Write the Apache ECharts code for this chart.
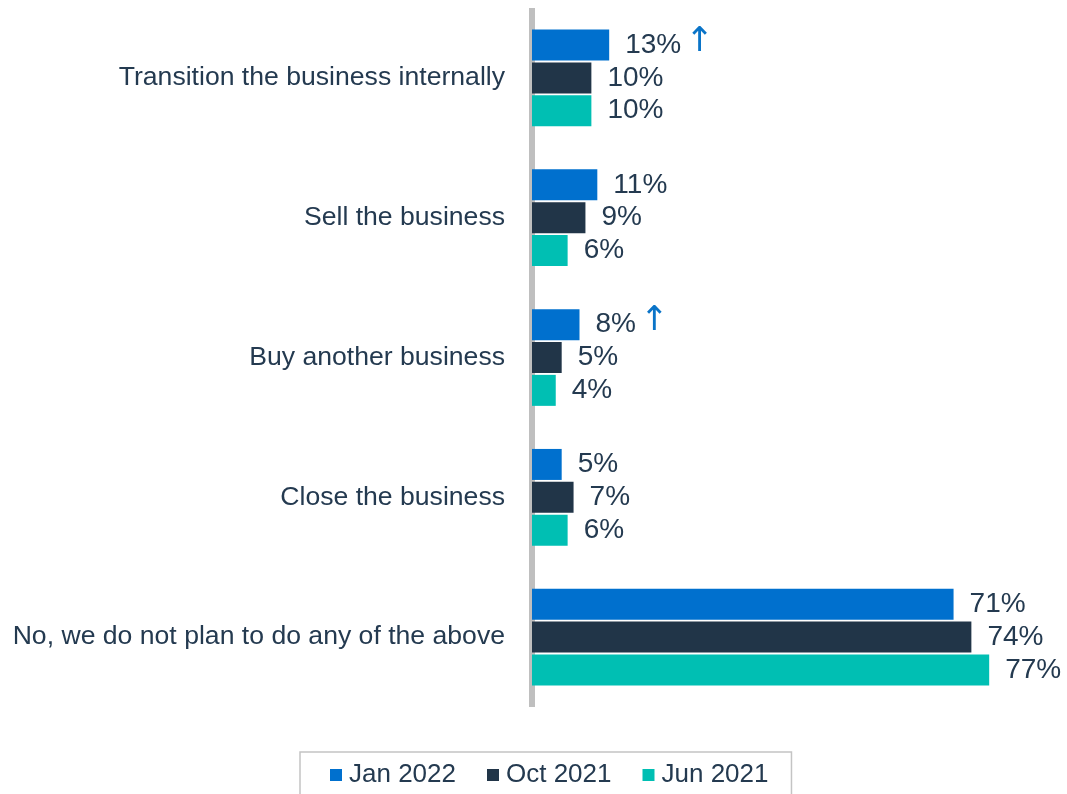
<!DOCTYPE html>
<html>
<head>
<meta charset="utf-8">
<title>Business plans</title>
<script src="https://cdn.jsdelivr.net/npm/echarts@6/dist/echarts.min.js"></script>
<style>
  html, body { margin: 0; padding: 0; background: #ffffff; }
  #chart { width: 1067px; height: 794px; }
</style>
</head>
<body>
<div id="chart"></div>
<script>
// Answer options, top to bottom
const categories = [
  'Transition the business internally',
  'Sell the business',
  'Buy another business',
  'Close the business',
  'No, we do not plan to do any of the above'
];

// Share of respondents (%) per survey wave
const jan2022 = [13, 11, 8, 5, 71];
const oct2021 = [10, 9, 5, 7, 74];
const jun2021 = [10, 6, 4, 6, 77];

// Significant increase markers for the latest wave
const jan2022Up = [true, false, true, false, false];

const seriesNames = ['Jan 2022', 'Oct 2021', 'Jun 2021'];

const FONT = '"Liberation Sans", Arial, sans-serif';
const TEXT = '#243a50';
const COLORS = ['#0070ce', '#213548', '#00bfb3'];

function makeSeries(name, values, color, upFlags) {
  return {
    name: name,
    type: 'bar',
    data: values,
    barWidth: 31,
    barGap: '6%',
    itemStyle: { color: color },
    label: {
      show: true,
      position: 'right',
      distance: 16,
      formatter: function (p) {
        const up = upFlags && upFlags[p.dataIndex];
        return '{v|' + p.value + '%}' + (up ? '{a|\u2191}' : '');
      },
      rich: {
        v: { fontFamily: FONT, fontSize: 28, color: TEXT },
        a: { fontFamily: '"DejaVu Sans", sans-serif', fontSize: 34, color: '#0a74c8', padding: [0, 0, 6, 4] }
      }
    }
  };
}

const chart = echarts.init(document.getElementById('chart'), null, { renderer: 'canvas' });

chart.setOption({
  backgroundColor: '#ffffff',
  animation: false,
  grid: { left: 532, right: 60, top: 8, bottom: 87, containLabel: false },
  xAxis: {
    type: 'value',
    min: 0,
    max: 80,
    show: false
  },
  yAxis: {
    type: 'category',
    data: categories,
    inverse: true,
    offset: 4,
    axisLine: { show: true, lineStyle: { color: '#bfbfbf', width: 6, cap: 'butt' } },
    axisTick: { show: false },
    axisLabel: { fontFamily: FONT, fontSize: 26.6, color: TEXT, margin: 23 },
    splitLine: { show: false }
  },
  legend: {
    data: seriesNames,
    left: 300,
    top: 752,
    orient: 'horizontal',
    icon: 'rect',
    itemWidth: 12,
    itemHeight: 12,
    itemGap: 31,
    padding: [10, 23, 30, 30],
    borderColor: '#c4c4c4',
    borderWidth: 1.5,
    textStyle: { fontFamily: FONT, fontSize: 26, color: TEXT, padding: [0, 0, 0, 2] }
  },
  series: [
    makeSeries(seriesNames[0], jan2022, COLORS[0], jan2022Up),
    makeSeries(seriesNames[1], oct2021, COLORS[1], null),
    makeSeries(seriesNames[2], jun2021, COLORS[2], null)
  ]
});
</script>
</body>
</html>
